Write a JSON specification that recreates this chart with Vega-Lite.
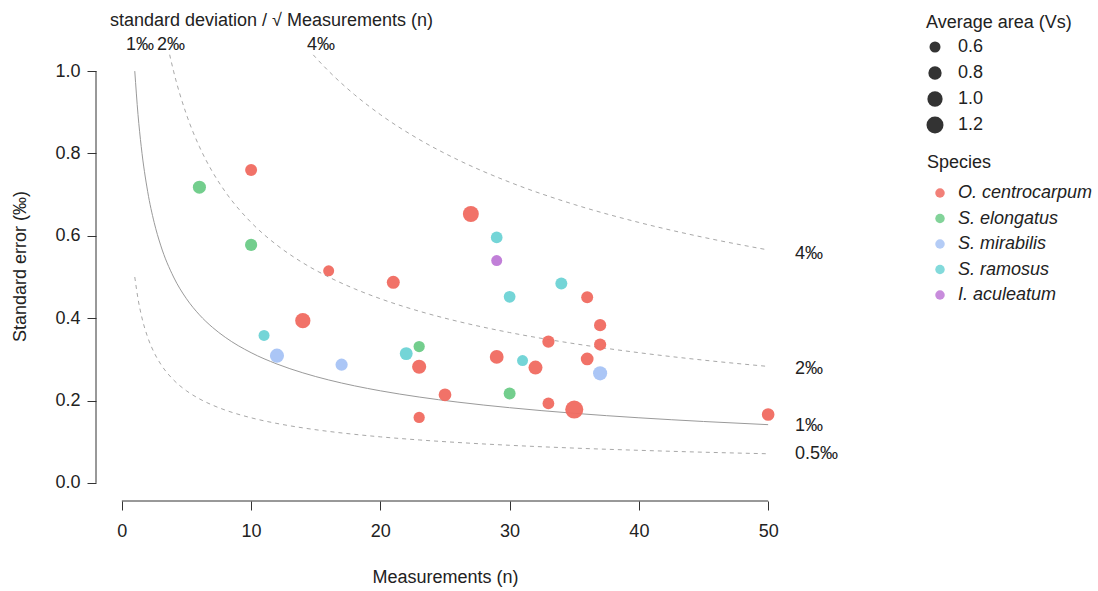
{
  "$schema": "https://vega.github.io/schema/vega-lite/v6.json",
  "width": 698,
  "height": 448,
  "autosize": {"type": "none"},
  "padding": {"left": 96, "top": 53, "right": 304, "bottom": 90},
  "background": "white",
  "title": {"text": "standard deviation  / √ Measurements (n)", "anchor": "start", "frame": "group", "dx": 14, "dy": 20, "fontSize": 18, "fontWeight": "normal", "font": "Liberation Sans", "color": "#222222", "offset": 4},
  "config": {
    "view": {"stroke": null},
    "font": "Liberation Sans",
    "axis": {"domain": false, "grid": false, "tickColor": "#333333", "tickWidth": 1, "tickSize": 9, "labelFont": "Liberation Sans", "labelFontSize": 18, "labelColor": "#222222", "titleFont": "Liberation Sans", "titleFontSize": 18, "titleFontWeight": "normal", "titleColor": "#222222"},
    "legend": {"titleFont": "Liberation Sans", "titleFontSize": 18, "titleFontWeight": "normal", "titleColor": "#222222", "labelFont": "Liberation Sans", "labelFontSize": 18, "labelColor": "#222222", "padding": 0}
  },
  "datasets": {
    "points": [
      {"species": "O. centrocarpum", "n": 10, "se": 0.760, "area": 0.68},
      {"species": "O. centrocarpum", "n": 16, "se": 0.515, "area": 0.60},
      {"species": "O. centrocarpum", "n": 21, "se": 0.487, "area": 0.77},
      {"species": "O. centrocarpum", "n": 27, "se": 0.653, "area": 1.08},
      {"species": "O. centrocarpum", "n": 36, "se": 0.451, "area": 0.68},
      {"species": "O. centrocarpum", "n": 37, "se": 0.383, "area": 0.70},
      {"species": "O. centrocarpum", "n": 37, "se": 0.336, "area": 0.70},
      {"species": "O. centrocarpum", "n": 33, "se": 0.343, "area": 0.70},
      {"species": "O. centrocarpum", "n": 36, "se": 0.301, "area": 0.75},
      {"species": "O. centrocarpum", "n": 29, "se": 0.306, "area": 0.85},
      {"species": "O. centrocarpum", "n": 32, "se": 0.280, "area": 0.87},
      {"species": "O. centrocarpum", "n": 23, "se": 0.282, "area": 0.88},
      {"species": "O. centrocarpum", "n": 25, "se": 0.214, "area": 0.75},
      {"species": "O. centrocarpum", "n": 33, "se": 0.193, "area": 0.66},
      {"species": "O. centrocarpum", "n": 35, "se": 0.178, "area": 1.33},
      {"species": "O. centrocarpum", "n": 23, "se": 0.159, "area": 0.62},
      {"species": "O. centrocarpum", "n": 50, "se": 0.166, "area": 0.74},
      {"species": "O. centrocarpum", "n": 14, "se": 0.394, "area": 1.00},
      {"species": "S. elongatus", "n": 6, "se": 0.718, "area": 0.78},
      {"species": "S. elongatus", "n": 10, "se": 0.578, "area": 0.70},
      {"species": "S. elongatus", "n": 23, "se": 0.331, "area": 0.62},
      {"species": "S. elongatus", "n": 30, "se": 0.217, "area": 0.68},
      {"species": "S. mirabilis", "n": 37, "se": 0.266, "area": 0.88},
      {"species": "S. mirabilis", "n": 12, "se": 0.309, "area": 0.88},
      {"species": "S. mirabilis", "n": 17, "se": 0.287, "area": 0.70},
      {"species": "S. ramosus", "n": 29, "se": 0.596, "area": 0.66},
      {"species": "S. ramosus", "n": 30, "se": 0.452, "area": 0.66},
      {"species": "S. ramosus", "n": 34, "se": 0.484, "area": 0.68},
      {"species": "S. ramosus", "n": 31, "se": 0.297, "area": 0.60},
      {"species": "S. ramosus", "n": 22, "se": 0.314, "area": 0.76},
      {"species": "S. ramosus", "n": 11, "se": 0.358, "area": 0.60},
      {"species": "I. aculeatum", "n": 29, "se": 0.540, "area": 0.60}
    ],
    "curves": [
      {"sd": 1, "n": 1, "se": 1.0}, {"sd": 1, "n": 1.25, "se": 0.8944}, {"sd": 1, "n": 1.5, "se": 0.8165}, {"sd": 1, "n": 2, "se": 0.7071}, {"sd": 1, "n": 2.5, "se": 0.6325}, {"sd": 1, "n": 3, "se": 0.5774}, {"sd": 1, "n": 4, "se": 0.5}, {"sd": 1, "n": 5, "se": 0.4472}, {"sd": 1, "n": 6, "se": 0.4082}, {"sd": 1, "n": 7, "se": 0.378}, {"sd": 1, "n": 8, "se": 0.3536}, {"sd": 1, "n": 10, "se": 0.3162}, {"sd": 1, "n": 12, "se": 0.2887}, {"sd": 1, "n": 14, "se": 0.2673}, {"sd": 1, "n": 16, "se": 0.25}, {"sd": 1, "n": 18, "se": 0.2357}, {"sd": 1, "n": 20, "se": 0.2236}, {"sd": 1, "n": 23, "se": 0.2085}, {"sd": 1, "n": 26, "se": 0.1961}, {"sd": 1, "n": 30, "se": 0.1826}, {"sd": 1, "n": 35, "se": 0.169}, {"sd": 1, "n": 40, "se": 0.1581}, {"sd": 1, "n": 45, "se": 0.1491}, {"sd": 1, "n": 50, "se": 0.1414},
      {"sd": 0.5, "n": 1, "se": 0.5}, {"sd": 0.5, "n": 1.25, "se": 0.4472}, {"sd": 0.5, "n": 1.5, "se": 0.4082}, {"sd": 0.5, "n": 2, "se": 0.3536}, {"sd": 0.5, "n": 2.5, "se": 0.3162}, {"sd": 0.5, "n": 3, "se": 0.2887}, {"sd": 0.5, "n": 4, "se": 0.25}, {"sd": 0.5, "n": 5, "se": 0.2236}, {"sd": 0.5, "n": 6, "se": 0.2041}, {"sd": 0.5, "n": 7, "se": 0.189}, {"sd": 0.5, "n": 8, "se": 0.1768}, {"sd": 0.5, "n": 10, "se": 0.1581}, {"sd": 0.5, "n": 12, "se": 0.1443}, {"sd": 0.5, "n": 14, "se": 0.1336}, {"sd": 0.5, "n": 16, "se": 0.125}, {"sd": 0.5, "n": 18, "se": 0.1179}, {"sd": 0.5, "n": 20, "se": 0.1118}, {"sd": 0.5, "n": 23, "se": 0.1043}, {"sd": 0.5, "n": 26, "se": 0.0981}, {"sd": 0.5, "n": 30, "se": 0.0913}, {"sd": 0.5, "n": 35, "se": 0.0845}, {"sd": 0.5, "n": 40, "se": 0.0791}, {"sd": 0.5, "n": 45, "se": 0.0745}, {"sd": 0.5, "n": 50, "se": 0.0707},
      {"sd": 2, "n": 3, "se": 1.1547}, {"sd": 2, "n": 3.5, "se": 1.069}, {"sd": 2, "n": 4, "se": 1.0}, {"sd": 2, "n": 5, "se": 0.8944}, {"sd": 2, "n": 6, "se": 0.8165}, {"sd": 2, "n": 7, "se": 0.7559}, {"sd": 2, "n": 8, "se": 0.7071}, {"sd": 2, "n": 10, "se": 0.6325}, {"sd": 2, "n": 12, "se": 0.5774}, {"sd": 2, "n": 14, "se": 0.5345}, {"sd": 2, "n": 16, "se": 0.5}, {"sd": 2, "n": 18, "se": 0.4714}, {"sd": 2, "n": 20, "se": 0.4472}, {"sd": 2, "n": 23, "se": 0.417}, {"sd": 2, "n": 26, "se": 0.3922}, {"sd": 2, "n": 30, "se": 0.3651}, {"sd": 2, "n": 35, "se": 0.3381}, {"sd": 2, "n": 40, "se": 0.3162}, {"sd": 2, "n": 45, "se": 0.2981}, {"sd": 2, "n": 50, "se": 0.2828},
      {"sd": 4, "n": 14, "se": 1.069}, {"sd": 4, "n": 15, "se": 1.0328}, {"sd": 4, "n": 16, "se": 1.0}, {"sd": 4, "n": 18, "se": 0.9428}, {"sd": 4, "n": 20, "se": 0.8944}, {"sd": 4, "n": 23, "se": 0.8341}, {"sd": 4, "n": 26, "se": 0.7845}, {"sd": 4, "n": 30, "se": 0.7303}, {"sd": 4, "n": 35, "se": 0.6761}, {"sd": 4, "n": 40, "se": 0.6325}, {"sd": 4, "n": 45, "se": 0.5963}, {"sd": 4, "n": 50, "se": 0.5657}
    ],
    "xAxisLine": [{"n": 0, "n2": 50, "se": -0.044}],
    "yAxisLine": [{"n": -2, "se": 0, "se2": 1}],
    "rightLabels": [
      {"label": "4‰", "n": 52, "se": 0.5547},
      {"label": "2‰", "n": 52, "se": 0.2774},
      {"label": "1‰", "n": 52, "se": 0.1387},
      {"label": "0.5‰", "n": 52, "se": 0.0693}
    ],
    "topLabels": [
      {"label": "1‰", "n": 1.4, "se": 1.063},
      {"label": "2‰", "n": 3.8, "se": 1.063},
      {"label": "4‰", "n": 15.4, "se": 1.063}
    ]
  },
  "encoding": {
    "x": {"field": "n", "type": "quantitative", "title": "Measurements (n)",
      "scale": {"domain": [-2, 52], "nice": false, "zero": false},
      "axis": {"values": [0, 10, 20, 30, 40, 50], "labelFontSize": 18, "titleFontSize": 18, "labelPadding": 12, "titleY": 76, "titleBaseline": "middle"}},
    "y": {"field": "se", "type": "quantitative", "title": "Standard error (‰)",
      "scale": {"domain": [-0.044, 1.044], "nice": false, "zero": false},
      "axis": {"values": [0, 0.2, 0.4, 0.6, 0.8, 1.0], "format": ".1f", "labelFontSize": 18, "titleFontSize": 18, "labelPadding": 7, "titleX": -76, "titleY": 213, "titleBaseline": "middle"}}
  },
  "layer": [
    {
      "data": {"name": "curves"},
      "transform": [{"filter": "datum.sd == 1"}],
      "mark": {"type": "line", "color": "#9a9a9a", "strokeWidth": 1, "clip": true, "interpolate": "monotone"}
    },
    {
      "data": {"name": "curves"},
      "transform": [{"filter": "datum.sd != 1"}],
      "mark": {"type": "line", "color": "#a8a8a8", "strokeWidth": 1, "strokeDash": [4, 4], "clip": true, "interpolate": "monotone"},
      "encoding": {
        "detail": {"field": "sd", "type": "nominal"}
      }
    },
    {
      "data": {"name": "xAxisLine"},
      "mark": {"type": "rule", "color": "#333333", "strokeWidth": 1},
      "encoding": {
        "x2": {"field": "n2"}
      }
    },
    {
      "data": {"name": "yAxisLine"},
      "mark": {"type": "rule", "color": "#333333", "strokeWidth": 1},
      "encoding": {
        "y2": {"field": "se2"}
      }
    },
    {
      "data": {"name": "points"},
      "mark": {"type": "circle", "opacity": 0.95},
      "encoding": {
        "size": {"field": "area", "type": "quantitative", "title": "Average area (Vs)",
          "scale": {"domain": [0.4, 1.4], "range": [65, 345], "zero": false},
          "legend": {"orient": "none", "legendX": 830, "legendY": -39, "values": [0.6, 0.8, 1.0, 1.2], "format": ".1f", "clipHeight": 20, "rowPadding": 6, "labelOffset": 14, "titlePadding": 5,
            "symbolFillColor": "#333333", "symbolStrokeWidth": 0, "symbolOpacity": 1}},
        "color": {"field": "species", "type": "nominal", "title": "Species",
          "scale": {"domain": ["O. centrocarpum", "S. elongatus", "S. mirabilis", "S. ramosus", "I. aculeatum"], "range": ["#F06A60", "#6CCB87", "#A7C3F5", "#6DD3D5", "#BE78D6"]},
          "legend": {"orient": "none", "legendX": 831, "legendY": 101, "clipHeight": 20, "rowPadding": 5.5, "labelOffset": 9, "titlePadding": 11, "symbolSize": 90, "symbolOpacity": 0.85, "symbolStrokeWidth": 0, "labelFontStyle": "italic", "symbolOffset": 4}}
      }
    },
    {
      "data": {"name": "rightLabels"},
      "mark": {"type": "text", "align": "left", "baseline": "middle", "fontSize": 18, "color": "#222222", "dx": 1},
      "encoding": {
        "text": {"field": "label"}
      }
    },
    {
      "data": {"name": "topLabels"},
      "mark": {"type": "text", "align": "center", "baseline": "middle", "fontSize": 18, "color": "#222222"},
      "encoding": {
        "text": {"field": "label"}
      }
    }
  ]
}
